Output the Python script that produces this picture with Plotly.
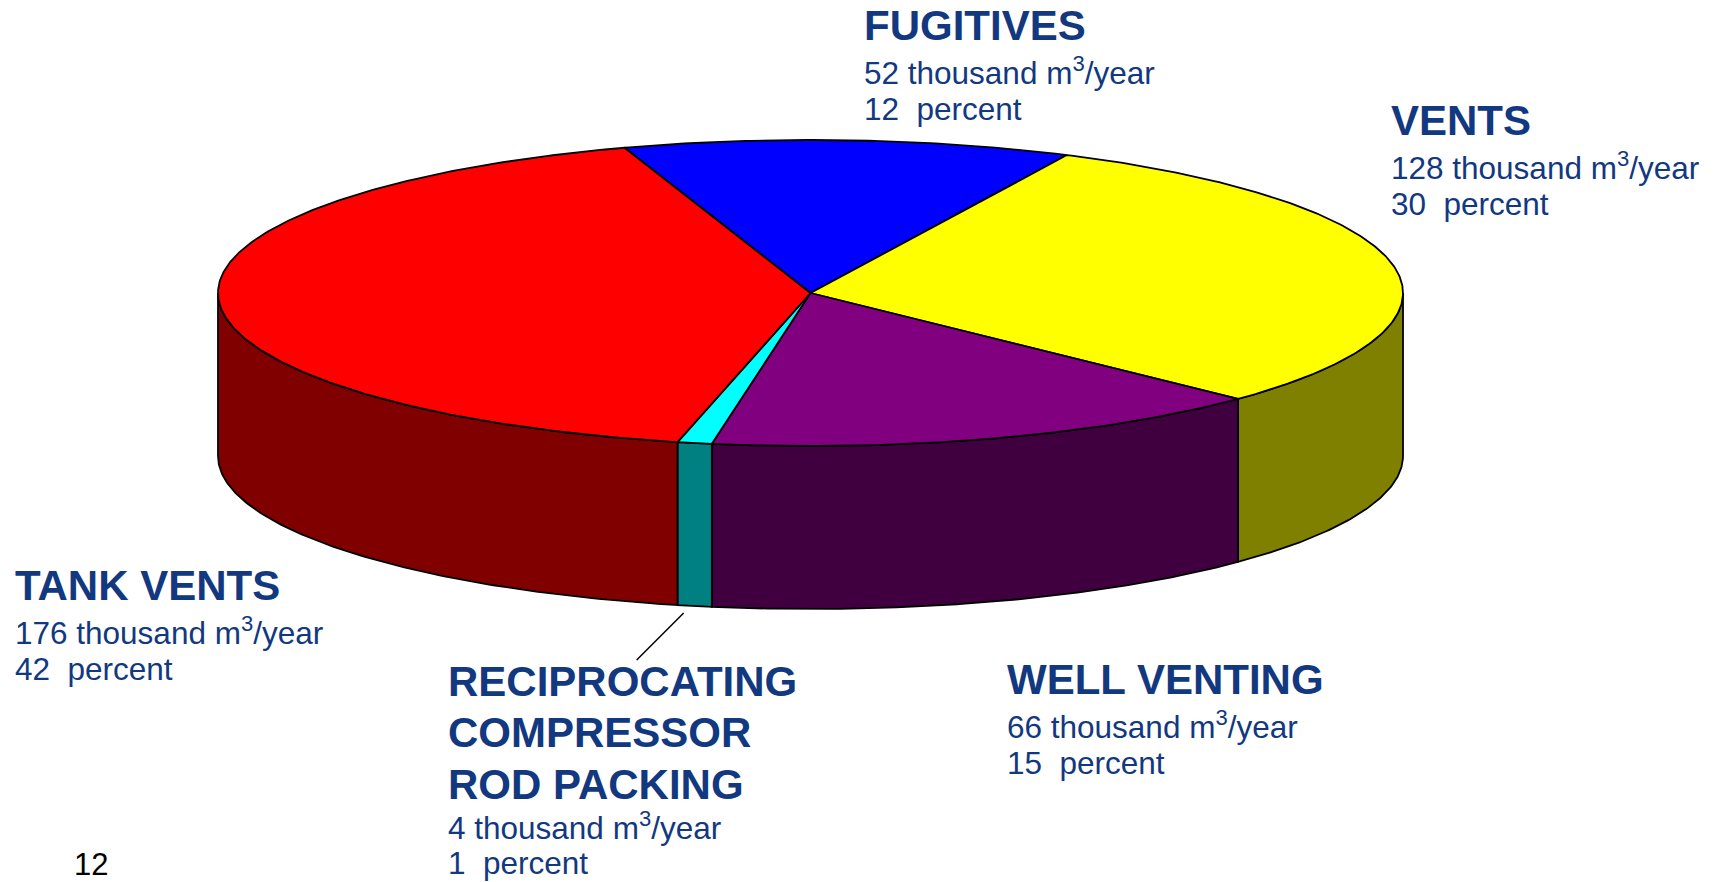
import numpy as np
import plotly.graph_objects as go

# ---------------- data ----------------
categories = ["FUGITIVES", "VENTS", "WELL VENTING",
              "RECIPROCATING\nCOMPRESSOR\nROD PACKING", "TANK VENTS"]
values = [52, 128, 66, 4, 176]          # thousand m3/year
percents = [12, 30, 15, 1, 42]          # percent
page_number = "12"

# ---------------- style ----------------
top_colors = ["#0000FF", "#FFFF00", "#800080", "#00FFFF", "#FF0000"]
side_colors = ["#000080", "#808000", "#400040", "#008080", "#800000"]
TEXT_COLOR = "#12387F"
FONT = "Arial, Liberation Sans, sans-serif"
W, H = 1714, 882
CX, CY, RX, RY, DEPTH = 810.5, 293.0, 592.5, 153.0, 163.0
START_DEG = 108.3
# label block: (left x, centre y of first title line)
label_pos = [(862, 25), (1389, 120), (1005, 679), (446, 681), (13, 585)]
TITLE_SIZE, BODY_SIZE = 42, 31.5
TITLE_STEP, TITLE_TO_BODY, BODY_STEP = 51.5, 46, 37.5
BOTTOM_LIMIT = H - 19

def pt(deg, dy=0.0):
    r = np.radians(deg)
    return CX + RX * np.cos(r), CY - RY * np.sin(r) + dy

def arc(a0, a1, dy=0.0, n=None):
    if n is None:
        n = max(2, int(abs(a1 - a0) * 2) + 2)
    angs = np.linspace(a0, a1, n)
    xs, ys = pt(angs, dy)
    return list(xs), list(ys)

total = float(sum(values))
spans = [v / total * 360.0 for v in values]
starts, ends = [], []
a = START_DEG
for s in spans:
    starts.append(a)
    ends.append(a - s)
    a -= s

fig = go.Figure()

# side walls (visible lower half)
for i in range(len(values)):
    s, e = starts[i], ends[i]
    for k in (-1, 0, 1):
        lo, hi = -180 + 360 * k, 0 + 360 * k
        a_hi, a_lo = min(s, hi), max(e, lo)
        if a_hi - a_lo <= 1e-6:
            continue
        tx, ty = arc(a_hi, a_lo)
        bx, by = arc(a_lo, a_hi, DEPTH)
        fig.add_trace(go.Scatter(
            x=tx + bx + [tx[0]], y=ty + by + [ty[0]],
            mode="lines", fill="toself", fillcolor=side_colors[i],
            line=dict(color="black", width=1.8), hoverinfo="skip",
            showlegend=False))

# top faces
for i in range(len(values)):
    ax, ay = arc(starts[i], ends[i])
    fig.add_trace(go.Scatter(
        x=[CX] + ax + [CX], y=[CY] + ay + [CY],
        mode="lines", fill="toself", fillcolor=top_colors[i],
        line=dict(color="black", width=1.8), hoverinfo="skip",
        name=categories[i].replace("\n", " "), showlegend=False))

# labels
ann = []
for i, cat in enumerate(categories):
    x0, y0 = label_pos[i]
    lines = cat.split("\n")
    for j, ln in enumerate(lines):
        ann.append(dict(x=x0, y=y0 + j * TITLE_STEP, text="<b>" + ln + "</b>",
                        showarrow=False, xanchor="left", yanchor="middle",
                        font=dict(family=FONT, size=TITLE_SIZE, color=TEXT_COLOR)))
    y_body = y0 + (len(lines) - 1) * TITLE_STEP + TITLE_TO_BODY
    y_pct = y_body + BODY_STEP
    shift = max(0.0, y_pct - BOTTOM_LIMIT)
    y_body -= shift
    y_pct -= shift
    ann.append(dict(x=x0, y=y_body, text=f"{values[i]} thousand m<sup>3</sup>/year",
                    showarrow=False, xanchor="left", yanchor="middle",
                    font=dict(family=FONT, size=BODY_SIZE, color=TEXT_COLOR)))
    ann.append(dict(x=x0, y=y_pct, text=f"{percents[i]}\u00a0 percent",
                    showarrow=False, xanchor="left", yanchor="middle",
                    font=dict(family=FONT, size=BODY_SIZE, color=TEXT_COLOR)))

ann.append(dict(x=72, y=864, text=page_number, showarrow=False,
                xanchor="left", yanchor="middle",
                font=dict(family=FONT, size=31, color="black")))

# leader line for the thin slice
ri = 3
mid = (starts[ri] + ends[ri]) / 2.0
lx, ly = pt(mid, DEPTH)
fig.add_shape(type="line", x0=lx - 11, y0=ly + 7, x1=lx - 58, y1=ly + 54,
              line=dict(color="black", width=1.5))

fig.update_layout(
    width=W, height=H, margin=dict(l=0, r=0, t=0, b=0),
    paper_bgcolor="white", plot_bgcolor="white",
    xaxis=dict(range=[0, W], visible=False, fixedrange=True),
    yaxis=dict(range=[H, 0], visible=False, fixedrange=True),
    annotations=ann, showlegend=False)

fig.write_html("out.html")
